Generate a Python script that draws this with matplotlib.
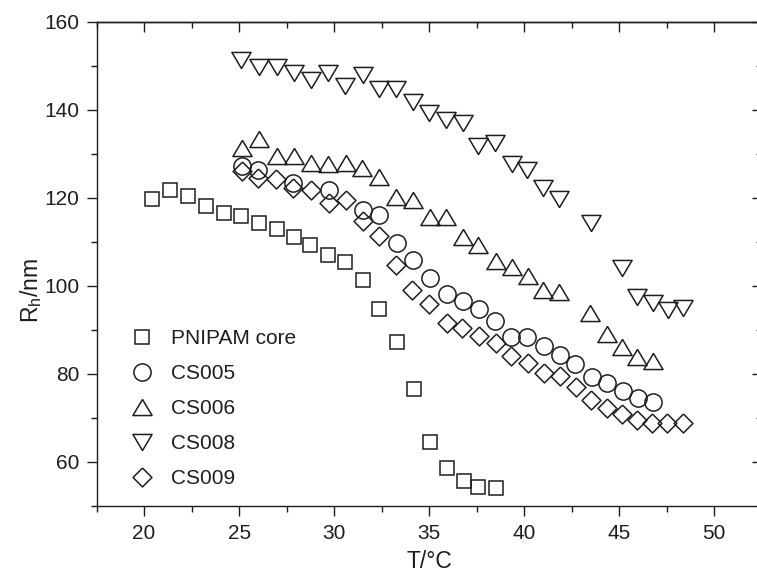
import matplotlib
matplotlib.use('Agg')
import matplotlib.pyplot as plt
from matplotlib.ticker import MultipleLocator

plt.rcParams['font.family'] = ['Liberation Sans', 'DejaVu Sans']
plt.rcParams['mathtext.fontset'] = 'custom'
plt.rcParams['mathtext.rm'] = 'Liberation Sans'
plt.rcParams['mathtext.it'] = 'Liberation Sans'

# ---- data ----
T_core = [20.4, 21.36, 22.29, 23.28, 24.2, 25.12, 26.06, 26.98, 27.9, 28.73, 29.69,
          30.6, 31.54, 32.38, 33.3, 34.2, 35.03, 35.93, 36.82, 37.59, 38.54]
R_core = [119.7, 121.7, 120.3, 118.2, 116.6, 115.9, 114.25, 112.9, 111.0, 109.25, 107.0,
          105.3, 101.2, 94.7, 87.1, 76.5, 64.5, 58.5, 55.6, 54.3, 54.0]

T_cs005 = [25.14, 26.0, 27.85, 29.72, 31.5, 32.38, 33.3, 34.16, 35.05, 35.93, 36.8, 37.64,
           38.47, 39.3, 40.17, 41.05, 41.89, 42.68, 43.56, 44.38, 45.19, 46.0, 46.8]
R_cs005 = [127.3, 126.4, 123.4, 121.75, 117.2, 116.1, 109.6, 105.9, 101.7, 98.1, 96.6, 94.7,
           92.05, 88.4, 88.4, 86.3, 84.25, 82.2, 79.3, 77.8, 76.1, 74.4, 73.6]

T_cs006 = [25.14, 26.06, 26.98, 27.9, 28.8, 29.7, 30.61, 31.48, 32.38, 33.26, 34.14, 35.05,
           35.9, 36.77, 37.59, 38.5, 39.35, 40.19, 41.0, 41.84, 43.47, 44.35, 45.14, 45.96, 46.77]
R_cs006 = [131.4, 133.3, 129.5, 129.5, 128.0, 127.7, 128.0, 126.7, 124.6, 120.1, 119.5, 115.7,
           115.7, 111.0, 109.25, 105.6, 104.3, 102.2, 99.0, 98.5, 93.9, 89.0, 86.0, 83.8, 82.9]

T_cs008 = [25.1, 26.06, 26.98, 27.87, 28.8, 29.68, 30.6, 31.5, 32.38, 33.26, 34.14, 35.01,
           35.9, 36.77, 37.59, 38.47, 39.35, 40.14, 40.98, 41.82, 43.52, 45.15, 45.96, 46.77,
           47.56, 48.35]
R_cs008 = [151.2, 149.8, 149.8, 148.3, 146.75, 148.4, 145.4, 147.8, 144.7, 144.7, 141.8, 139.2,
           137.7, 136.9, 131.75, 132.4, 127.7, 126.3, 122.1, 119.6, 114.2, 104.0, 97.5, 96.0,
           94.5, 94.9]

T_cs009 = [25.14, 26.0, 26.94, 27.85, 28.8, 29.72, 30.61, 31.5, 32.38, 33.26, 34.12, 35.0,
           35.93, 36.75, 37.64, 38.5, 39.3, 40.19, 41.05, 41.89, 42.73, 43.52, 44.35, 45.14,
           45.93, 46.72, 47.54, 48.35]
R_cs009 = [126.1, 124.4, 124.2, 122.1, 121.75, 118.9, 119.5, 114.7, 111.3, 104.7, 99.0, 95.8,
           91.45, 90.3, 88.6, 86.9, 84.0, 82.4, 80.2, 79.5, 77.05, 74.0, 72.1, 70.8,
           69.5, 68.9, 68.7, 68.7]

labels = ['PNIPAM core', 'CS005', 'CS006', 'CS008', 'CS009']
x_ticks = [20, 25, 30, 35, 40, 45, 50]
y_ticks = [60, 80, 100, 120, 140, 160]

# ---- figure ----
W, H = 757, 576
fig = plt.figure(figsize=(W / 100, H / 100), dpi=100)
ax = fig.add_axes([96.6 / W, (H - 505.7) / H, 665 / W, 484 / H])

ec = '#1e1e1e'
mew = 1.1
tri_up = [(0, 0.84), (-1, -0.84), (1, -0.84), (0, 0.84)]
tri_dn = [(0, -0.84), (-1, 0.84), (1, 0.84), (0, -0.84)]
diam = [(0, 1), (1, 0), (0, -1), (-1, 0), (0, 1)]

common = dict(ls='none', mfc='none', mec=ec, mew=mew)
ax.plot(T_core, R_core, marker='s', ms=10.3, label=labels[0], **common)
ax.plot(T_cs005, R_cs005, marker='o', ms=12.4, label=labels[1], **common)
ax.plot(T_cs006, R_cs006, marker=tri_up, ms=13.8, label=labels[2], **common)
ax.plot(T_cs008, R_cs008, marker=tri_dn, ms=13.8, label=labels[3], **common)
ax.plot(T_cs009, R_cs009, marker=diam, ms=13.6, label=labels[4], **common)

ax.set_xlim(17.5, 52.5)
ax.set_ylim(50, 160)
ax.set_xticks(x_ticks)
ax.set_yticks(y_ticks)
ax.xaxis.set_minor_locator(MultipleLocator(2.5))
ax.yaxis.set_minor_locator(MultipleLocator(10))

for s in ax.spines.values():
    s.set_linewidth(1.0)
    s.set_color('#1e1e1e')

ax.tick_params(which='both', direction='out', top=False, right=False,
               width=1.0, color='#1e1e1e', labelsize=15, labelcolor='#1e1e1e')
ax.tick_params(which='major', length=7.2)
ax.tick_params(axis='y', which='major', pad=5)
ax.tick_params(axis='x', which='major', pad=6)
ax.tick_params(which='minor', length=4.3)

secx = ax.secondary_xaxis('top')
secx.set_xticks(x_ticks)
secx.xaxis.set_minor_locator(MultipleLocator(2.5))
secx.tick_params(which='both', direction='in', labeltop=False, width=1.0, color='#1e1e1e')
secx.tick_params(which='major', length=7.2)
secx.tick_params(which='minor', length=4.3)
secx.spines['top'].set_linewidth(1.0)

secy = ax.secondary_yaxis('right')
secy.set_yticks(y_ticks)
secy.yaxis.set_minor_locator(MultipleLocator(10))
secy.tick_params(which='both', direction='in', labelright=False, width=1.0, color='#1e1e1e')
secy.tick_params(which='major', length=7.2)
secy.tick_params(which='minor', length=4.3)

ax.set_xlabel('T/°C', fontsize=16.5, color='#1e1e1e', labelpad=5)
ax.set_ylabel('R$_\\mathregular{h}$/nm', fontsize=16.5, color='#1e1e1e')
ax.yaxis.set_label_coords((44 - 96.6) / 665, 0.445)

leg = ax.legend(loc='upper left', bbox_to_anchor=(131.5 / W, 1 - 329.5 / H),
                bbox_transform=fig.transFigure, frameon=False, fontsize=15,
                borderpad=0, borderaxespad=0, handlelength=1.0, handletextpad=0.9,
                labelspacing=0.76, numpoints=1)
for t in leg.get_texts():
    t.set_color('#1e1e1e')

fig.savefig('out.png', dpi=100)
